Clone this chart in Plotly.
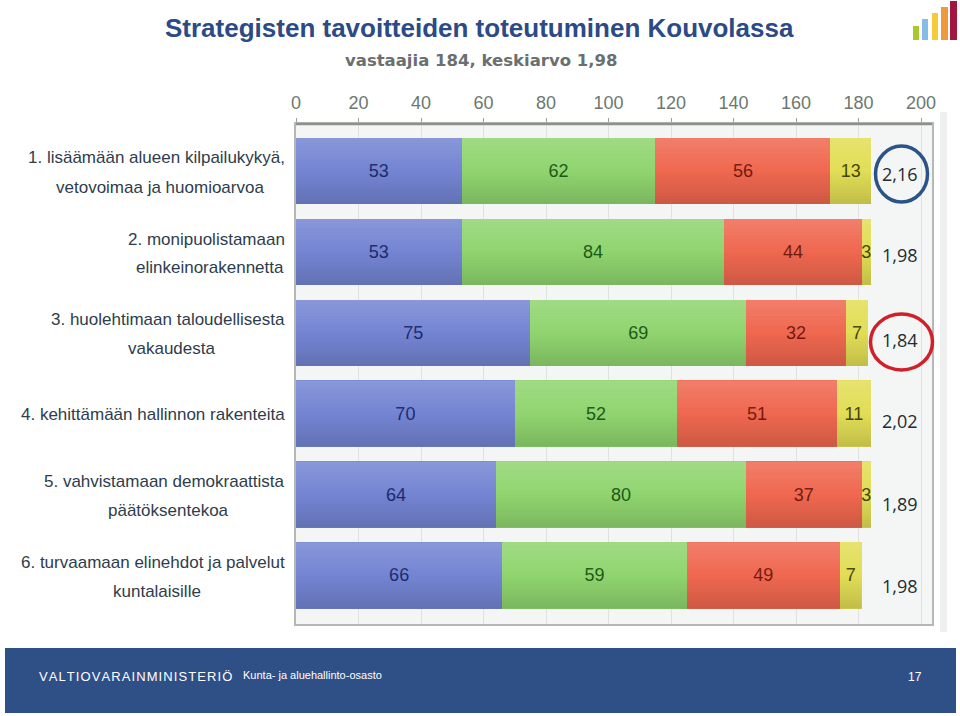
import plotly.graph_objects as go

W, H = 960, 716
TITLE = "Strategisten tavoitteiden toteutuminen Kouvolassa"
SUBTITLE = "vastaajia 184, keskiarvo 1,98"
FOOT_ORG = "VALTIOVARAINMINISTERIÖ"
FOOT_UNIT = "Kunta- ja aluehallinto-osasto"
PAGE = "17"

categories = [
    "1. lisäämään alueen kilpailukykyä,<br>vetovoimaa ja huomioarvoa",
    "2. monipuolistamaan<br>elinkeinorakennetta",
    "3. huolehtimaan taloudellisesta<br>vakaudesta",
    "4. kehittämään hallinnon rakenteita",
    "5. vahvistamaan demokraattista<br>päätöksentekoa",
    "6. turvaamaan elinehdot ja palvelut<br>kuntalaisille",
]
blue_values = [53, 53, 75, 70, 64, 66]
green_values = [62, 84, 69, 52, 80, 59]
red_values = [56, 44, 32, 51, 37, 49]
yellow_values = [13, 3, 7, 11, 3, 7]
averages = ["2,16", "1,98", "1,84", "2,02", "1,89", "1,98"]
x_ticks = [0, 20, 40, 60, 80, 100, 120, 140, 160, 180, 200]

series = [
    (blue_values, "#7485d3", "#1c2b6e"),
    (green_values, "#90d56f", "#1d5a18"),
    (red_values, "#f06850", "#741a0e"),
    (yellow_values, "#e2de56", "#45450a"),
]
SANS = "Liberation Sans, Arial, sans-serif"
ys = list(range(len(categories)))
BAR_W = 0.82

fig = go.Figure()
for vals, col, tcol in series:
    fig.add_trace(go.Bar(
        y=ys, x=vals, orientation="h", width=BAR_W,
        marker=dict(color=col, line=dict(width=0)),
        text=vals, textposition="inside", insidetextanchor="middle",
        textangle=0, constraintext="none",
        textfont=dict(family=SANS, size=18, color=tcol),
        showlegend=False, cliponaxis=False,
    ))

shapes = []
total = [sum(t) for t in zip(blue_values, green_values, red_values, yellow_values)]
STEPS = 24
for i, t in enumerate(total):
    for s in range(STEPS):
        y0 = i - BAR_W / 2 + BAR_W * s / STEPS
        y1 = y0 + BAR_W / STEPS
        f = s / (STEPS - 1)
        col = f"rgba(255,255,255,{(0.5 - f) * 0.3:.3f})" if f < 0.5 else f"rgba(0,0,0,{(f - 0.5) * 0.28:.3f})"
        shapes.append(dict(type="rect", xref="x", yref="y", x0=0, x1=t, y0=y0, y1=y1,
                           fillcolor=col, line=dict(width=0), layer="above"))

shapes.append(dict(type="rect", xref="paper", yref="paper", x0=5 / W, x1=956 / W,
                   y0=1 - 713 / H, y1=1 - 648 / H, fillcolor="#2f4f87", line=dict(width=0)))
shapes.append(dict(type="rect", xref="paper", yref="paper", x0=940 / W, x1=947 / W,
                   y0=1 - 632 / H, y1=1 - 112 / H, fillcolor="#eef0f0", line=dict(width=0), layer="below"))
shapes.append(dict(type="line", xref="paper", yref="paper", x0=296 / W, x1=932 / W,
                   y0=1 - 124 / H, y1=1 - 124 / H, line=dict(color="#8c918c", width=2.5)))
for cx, cy, rx, ry, c in [(901.5, 174, 26, 28, "#2a5487"), (901.5, 342, 31, 28, "#d0202a")]:
    shapes.append(dict(type="circle", xref="paper", yref="paper",
                       x0=(cx - rx) / W, x1=(cx + rx) / W,
                       y0=1 - (cy + ry) / H, y1=1 - (cy - ry) / H,
                       line=dict(color=c, width=3.5)))
for x0, x1, top, c in [(913, 919, 26, "#a9c82e"), (922, 928, 19, "#86bde8"), (932, 938, 13, "#f5cb3a"),
                       (941, 948, 7, "#ee9a3c"), (950, 957, 1, "#a3153f")]:
    shapes.append(dict(type="rect", xref="paper", yref="paper", x0=x0 / W, x1=x1 / W,
                       y0=1 - 40 / H, y1=1 - top / H, fillcolor=c, line=dict(width=0)))

annotations = []
def note(text, x, y, size, color, family, anchor="left", bold=False):
    annotations.append(dict(text=f"<b>{text}</b>" if bold else text, x=x / W, y=1 - y / H,
                            xref="paper", yref="paper", xanchor=anchor, yanchor="middle",
                            showarrow=False,
                            font=dict(size=size, color=color, family=family)))

note(TITLE, 163, 28, 26, "#2c4a85", SANS, bold=True)
note(SUBTITLE, 343, 61, 16.5, "#6a6f6f", "DejaVu Sans", bold=True)
note("\u200a".join(FOOT_ORG), 37, 676, 13, "#ffffff", SANS)
note(FOOT_UNIT, 241, 675, 11, "#ffffff", SANS)
note(PAGE, 906, 677, 12, "#ffffff", SANS)

# first line right-aligned to the axis, second line centred under it
first_y = [158, 239, 319, 414, 481, 562]
second_y = [187, 267, 348, None, 510, 591]
second_cx = [160, 210, 171, None, 168, 157]
for lab, y1, y2, cx in zip(categories, first_y, second_y, second_cx):
    parts = lab.split("<br>")
    note(parts[0], 287, y1, 17, "#2e3d4c", SANS, anchor="right")
    if len(parts) > 1:
        note(parts[1], cx, y2, 17, "#2e3d4c", SANS, anchor="center")

avg_y = [174, 255, 340, 421, 504, 586]
for a, y in zip(averages, avg_y):
    note(a, 900, y, 18, "#222c33", "Open Sans", anchor="center")

fig.update_layout(
    width=W, height=H, margin=dict(l=0, r=0, t=0, b=0, pad=0, autoexpand=False),
    paper_bgcolor="#ffffff", plot_bgcolor="#f4f6f6",
    barmode="stack", bargap=0.18, showlegend=False,
    shapes=shapes, annotations=annotations,
    xaxis=dict(domain=[296 / W, 932 / W], range=[0, 203.5], side="top", automargin=False,
               tickvals=x_ticks, ticks="outside", ticklen=4, tickcolor="#9a9f9a",
               ticklabelstandoff=2,
               tickfont=dict(family=SANS, size=18, color="#6c7870"),
               showgrid=True, gridcolor="#dfe2e0", gridwidth=1, zeroline=False,
               showline=True, mirror=True, linecolor="#b5b9b6", linewidth=1.5),
    yaxis=dict(domain=[1 - 624 / H, 1 - 124 / H], range=[5.6, -0.58], automargin=False,
               showticklabels=False, ticks="", showgrid=False, zeroline=False,
               showline=True, mirror=True, linecolor="#b5b9b6", linewidth=1.5),
)
fig.write_html("out.html", config={"displayModeBar": False},
               post_script="document.body.style.margin='0';document.documentElement.style.overflow='hidden';")
